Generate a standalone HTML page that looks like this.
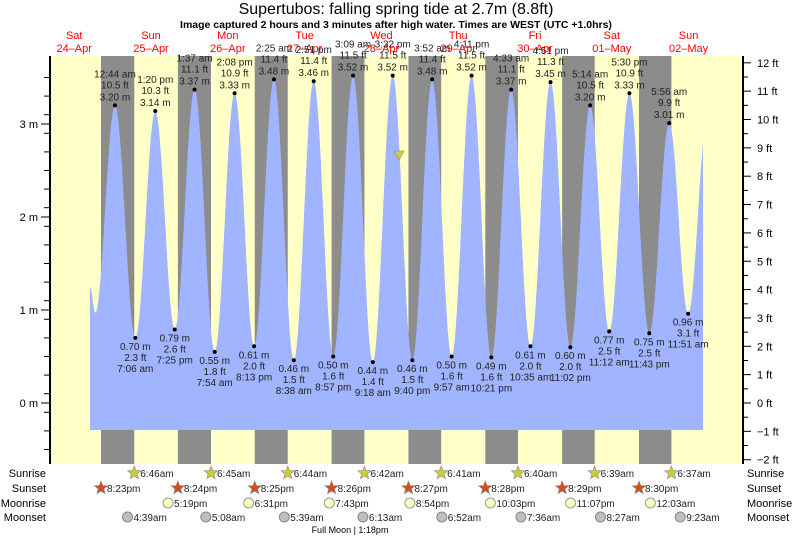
<!DOCTYPE html><html><head><meta charset="utf-8"><style>
body{margin:0;background:#fff}
svg text{font-family:"Liberation Sans",sans-serif}
</style></head><body>
<svg id="s" width="793" height="538" xmlns="http://www.w3.org/2000/svg"></svg>
<script>
const S=document.getElementById('s');let h='';
const X=t=>35.8+t*3.2, Y=m=>403-93*m;
h+=`<rect x="50" y="56" width="693" height="408" fill="#ffffc8"/>`;
const ss=[20.38,20.4,20.42,20.43,20.45,20.47,20.48,20.5],sr=[6.77,6.75,6.73,6.7,6.68,6.67,6.65,6.62];
for(let d=0;d<8;d++){const a=X(d*24+ss[d]),b=Math.min(743,X((d+1)*24+sr[d]));h+=`<rect x="${a}" y="56" width="${b-a}" height="408" fill="#8c8c8c"/>`;}
const tm=(d,hh,mm)=>d*24+hh+mm/60;
const E=[[16.9,1.25],[18.6,0.97],
[tm(1,0,44),3.20],[tm(1,7,6),0.70],[tm(1,13,20),3.14],[tm(1,19,25),0.79],
[tm(2,1,37),3.37],[tm(2,7,54),0.55],[tm(2,14,8),3.33],[tm(2,20,13),0.61],
[tm(3,2,25),3.48],[tm(3,8,38),0.46],[tm(3,14,51),3.46],[tm(3,20,57),0.50],
[tm(4,3,9),3.52],[tm(4,9,18),0.44],[tm(4,15,32),3.52],[tm(4,21,40),0.46],
[tm(5,3,52),3.48],[tm(5,9,57),0.50],[tm(5,16,11),3.52],[tm(5,22,21),0.49],
[tm(6,4,33),3.37],[tm(6,10,35),0.61],[tm(6,16,51),3.45],[tm(6,23,2),0.60],
[tm(7,5,14),3.20],[tm(7,11,12),0.77],[tm(7,17,30),3.33],[tm(7,23,43),0.75],
[tm(8,5,56),3.01],[tm(8,11,51),0.96],[tm(8,18,0),3.1]];
const endT=(703-35.8)/3.2;
let p=`M90 430 `;
for(let i=0;i<E.length-1;i++){const[t0,h0]=E[i],[t1,h1]=E[i+1];for(let k=0;k<=20;k++){const t=t0+(t1-t0)*k/20;if(t>endT)break;const v=h0+(h1-h0)*(1-Math.cos(Math.PI*k/20))/2;p+=`L${X(t).toFixed(1)} ${Y(v).toFixed(1)} `;}}
p+=`L703 ${Y(2.9)} L703 430Z`;
h+=`<path d="${p}" fill="#a0b4ff"/>`;
const lab=[["12:44 am","10.5 ft","3.20 m"],["7:06 am","2.3 ft","0.70 m"],["1:20 pm","10.3 ft","3.14 m"],["7:25 pm","2.6 ft","0.79 m"],
["1:37 am","11.1 ft","3.37 m"],["7:54 am","1.8 ft","0.55 m"],["2:08 pm","10.9 ft","3.33 m"],["8:13 pm","2.0 ft","0.61 m"],
["2:25 am","11.4 ft","3.48 m"],["8:38 am","1.5 ft","0.46 m"],["2:51 pm","11.4 ft","3.46 m"],["8:57 pm","1.6 ft","0.50 m"],
["3:09 am","11.5 ft","3.52 m"],["9:18 am","1.4 ft","0.44 m"],["3:32 pm","11.5 ft","3.52 m"],["9:40 pm","1.5 ft","0.46 m"],
["3:52 am","11.4 ft","3.48 m"],["9:57 am","1.6 ft","0.50 m"],["4:11 pm","11.5 ft","3.52 m"],["10:21 pm","1.6 ft","0.49 m"],
["4:33 am","11.1 ft","3.37 m"],["10:35 am","2.0 ft","0.61 m"],["4:51 pm","11.3 ft","3.45 m"],["11:02 pm","2.0 ft","0.60 m"],
["5:14 am","10.5 ft","3.20 m"],["11:12 am","2.5 ft","0.77 m"],["5:30 pm","10.9 ft","3.33 m"],["11:43 pm","2.5 ft","0.75 m"],
["5:56 am","9.9 ft","3.01 m"],["11:51 am","3.1 ft","0.96 m"]];
const tx=(x,y,s,o='')=>`<text x="${x}" y="${y}" font-size="10" fill="#222" text-anchor="middle" ${o}>${s}</text>`;
// day labels (drawn before peak labels so peaks overlay)
const dn=["Sat","Sun","Mon","Tue","Wed","Thu","Fri","Sat","Sun"],dd=["24\u2013Apr","25\u2013Apr","26\u2013Apr","27\u2013Apr","28\u2013Apr","29\u2013Apr","30\u2013Apr","01\u2013May","02\u2013May"];
for(let d=0;d<9;d++){const x=X(d*24+12);h+=`<text x="${x}" y="39" font-size="11" fill="#f00" text-anchor="middle">${dn[d]}</text><text x="${x}" y="52" font-size="11" fill="#f00" text-anchor="middle">${dd[d]}</text>`;}
for(let i=0;i<lab.length;i++){const[t,v]=E[i+2];const x=X(t),y=Y(v);h+=`<circle cx="${x}" cy="${y}" r="2" fill="#000"/>`;const L=lab[i];
if(i%2==0){h+=tx(x,y-28,L[0])+tx(x,y-17,L[1])+tx(x,y-5,L[2]);}else{h+=tx(x,y+12,L[2])+tx(x,y+23,L[1])+tx(x,y+34,L[0]);}}
h+=`<text x="396" y="14" font-size="16" text-anchor="middle" fill="#000">Supertubos: falling  spring tide at 2.7m (8.8ft)</text>`;
h+=`<text x="396" y="28" font-size="10.5" font-weight="bold" text-anchor="middle" fill="#000">Image captured 2 hours and 3 minutes after high water. Times are WEST (UTC +1.0hrs)</text>`;
h+=`<line x1="50" y1="56" x2="50" y2="464" stroke="#000" stroke-width="2"/><line x1="743" y1="56" x2="743" y2="464" stroke="#000" stroke-width="2"/>`;
for(let m=-0.5;m<=3.61;m+=0.2){const y=Y(m);if(y<56||y>464)continue;h+=`<line x1="44" y1="${y}" x2="50" y2="${y}" stroke="#000"/>`;}
for(let m=0;m<=3;m++){const y=Y(m);h+=`<line x1="41" y1="${y}" x2="50" y2="${y}" stroke="#000"/><text x="38" y="${y+4}" font-size="11" text-anchor="end">${m} m</text>`;}
for(let f=-2;f<=12;f++){const y=403-28.35*f;h+=`<line x1="743" y1="${y}" x2="751" y2="${y}" stroke="#000"/>`;if(f>-2)h+=`<line x1="743" y1="${y+14.2}" x2="748" y2="${y+14.2}" stroke="#000"/>`;h+=`<text x="757" y="${y+4}" font-size="11">${f<0?'\u2212'+(-f):f} ft</text>`;}
h+=`<polygon points="394,151 404,151 399,160" fill="#cccc33" stroke="#888" stroke-width="0.6"/>`;
const rows=[["Sunrise",477],["Sunset",492],["Moonrise",507],["Moonset",521]];
for(const[n,y]of rows){h+=`<text x="46" y="${y}" font-size="11" text-anchor="end">${n}</text><text x="747" y="${y}" font-size="11">${n}</text>`;}
const star=(x,y,c)=>{let pts='';for(let k=0;k<10;k++){const r=k%2?3:7,a=-Math.PI/2+k*Math.PI/5;pts+=`${(x+r*Math.cos(a)).toFixed(1)},${(y+r*Math.sin(a)).toFixed(1)} `;}return `<polygon points="${pts}" fill="${c}" stroke="#888" stroke-width="0.6"/>`;};
const lt=(x,y,s)=>`<text x="${x+6}" y="${y+4}" font-size="10" fill="#222">${s}</text>`;
["6:46am","6:45am","6:44am","6:42am","6:41am","6:40am","6:39am","6:37am"].forEach((s,i)=>{const x=X((i+1)*24+sr[i]);h+=star(x,473,"#cccc33")+lt(x,473,s);});
["8:23pm","8:24pm","8:25pm","8:26pm","8:27pm","8:28pm","8:29pm","8:30pm"].forEach((s,i)=>{const x=X(i*24+ss[i]);h+=star(x,488,"#d05020")+lt(x,488,s);});
[[1,17.32,"5:19pm"],[2,18.52,"6:31pm"],[3,19.72,"7:43pm"],[4,20.9,"8:54pm"],[5,22.05,"10:03pm"],[6,23.12,"11:07pm"],[8,0.05,"12:03am"]].forEach(([d,t,s])=>{const x=X(d*24+t);h+=`<circle cx="${x}" cy="503" r="5" fill="#ffffc8" stroke="#999"/>`+lt(x,503,s);});
[[1,4.65,"4:39am"],[2,5.13,"5:08am"],[3,5.65,"5:39am"],[4,6.22,"6:13am"],[5,6.87,"6:52am"],[6,7.6,"7:36am"],[7,8.45,"8:27am"],[8,9.38,"9:23am"]].forEach(([d,t,s])=>{const x=X(d*24+t);h+=`<circle cx="${x}" cy="517" r="5" fill="#c0c0b8" stroke="#888"/>`+lt(x,517,s);});
h+=`<text x="350" y="533" font-size="9" text-anchor="middle">Full Moon | 1:18pm</text>`;
S.innerHTML=h;
</script></body></html>
